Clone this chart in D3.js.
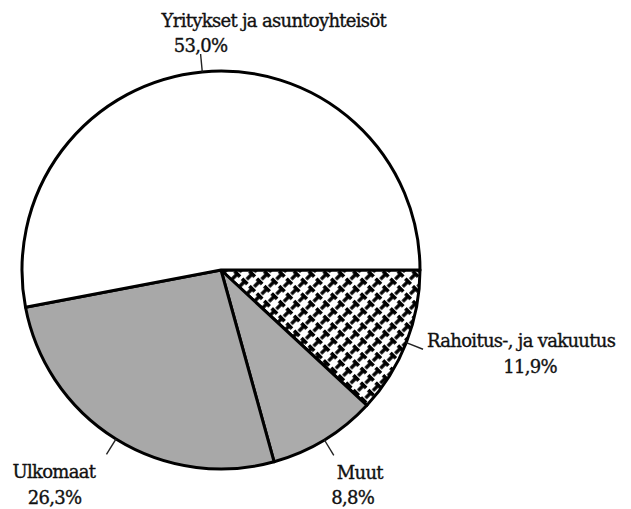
<!DOCTYPE html>
<html>
<head>
<meta charset="utf-8">
<script src="https://cdn.jsdelivr.net/npm/d3@7"></script>
<style>
  body { margin: 0; background: #fff; }
</style>
</head>
<body>
<div id="chart"></div>
<script>
// slices in clockwise order starting at 3 o'clock
const names = ['Rahoitus-, ja vakuutus', 'Muut', 'Ulkomaat', 'Yritykset ja asuntoyhteisöt']
const values = [11.9, 8.8, 26.3, 53.0]
const pctText = ['11,9%', '8,8%', '26,3%', '53,0%']
const fills = ['url(#hatch)', '#ababab', '#a8a8a8', '#ffffff']

const width = 631, height = 509
const cx = 221, cy = 270, r = 199
const serif = "'DejaVu Serif', serif"

const svg = d3.select('#chart').append('svg')
    .attr('width', width)
    .attr('height', height)

// hatch for the finance slice (T shapes on the diagonal)
const defs = svg.append('defs')
const pat = defs.append('pattern')
    .attr('id', 'hatch')
    .attr('patternUnits', 'userSpaceOnUse')
    .attr('width', 10.5).attr('height', 10.5)
    .attr('patternTransform', 'rotate(45)')
pat.append('rect').attr('width', 10.5).attr('height', 10.5).attr('fill', '#fff')
pat.append('path')
    .attr('d', 'M0,1.8 H7.6 M3.8,1.8 V9.4')
    .attr('stroke', '#000').attr('stroke-width', 3.4).attr('fill', 'none')

const g = svg.append('g').attr('transform', `translate(${cx},${cy})`)

const pie = d3.pie().sort(null).value(d => d)
    .startAngle(Math.PI / 2).endAngle(Math.PI / 2 + 2 * Math.PI)
const arcs = pie(values)
const arc = d3.arc().innerRadius(0).outerRadius(r)

g.selectAll('path.slice')
    .data(arcs)
    .join('path')
    .attr('class', 'slice')
    .attr('d', arc)
    .attr('fill', (d, i) => fills[i])
    .attr('stroke', '#000')
    .attr('stroke-width', 3)
    .attr('stroke-linejoin', 'round')

// leader lines at mid angle
const inner = d3.arc().innerRadius(r).outerRadius(r)
const outer = d3.arc().innerRadius(r + 18).outerRadius(r + 18)
const ends = arcs.map(d => outer.centroid(d))

g.selectAll('line.leader')
    .data(arcs)
    .join('line')
    .attr('class', 'leader')
    .attr('x1', d => inner.centroid(d)[0])
    .attr('y1', d => inner.centroid(d)[1])
    .attr('x2', (d, i) => ends[i][0])
    .attr('y2', (d, i) => ends[i][1])
    .attr('stroke', '#222')
    .attr('stroke-width', 1.4)

// label offsets relative to leader end: [nameDx, nameDy, pctDx, pctDy]
const labelPos = [
    [4, -2, 107, 24],
    [3, 24, 19, 49],
    [-94, 24, -52, 50],
    [-39, -27, 0, -2]
]

arcs.forEach((d, i) => {
    const [ex, ey] = ends[i]
    const p = labelPos[i]
    g.append('text')
        .attr('x', ex + p[0]).attr('y', ey + p[1])
        .attr('text-anchor', 'start')
        .attr('font-family', serif)
        .attr('font-size', 18)
        .attr('letter-spacing', -0.7)
        .attr('fill', '#111')
        .attr('stroke', '#111').attr('stroke-width', 0.35)
        .text(names[i])
    g.append('text')
        .attr('x', ex + p[2]).attr('y', ey + p[3])
        .attr('text-anchor', 'middle')
        .attr('font-family', serif)
        .attr('font-size', 18)
        .attr('letter-spacing', -0.7)
        .attr('fill', '#111')
        .attr('stroke', '#111').attr('stroke-width', 0.35)
        .text(pctText[i])
})
</script>
</body>
</html>
